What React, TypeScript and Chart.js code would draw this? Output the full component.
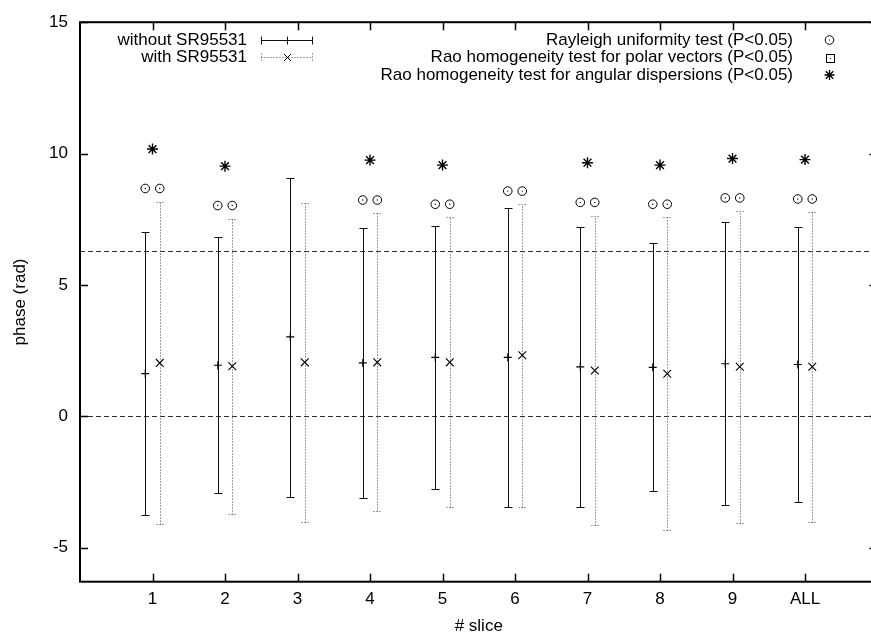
import { useEffect, useRef } from "react";
import { Chart, registerables } from "chart.js";

Chart.register(...registerables);

const categories = ["1", "2", "3", "4", "5", "6", "7", "8", "9", "ALL"];
const withoutMean = [1.62, 1.94, 3.02, 2.03, 2.24, 2.24, 1.88, 1.86, 2.0, 1.97];
const withoutHigh = [7.0, 6.82, 9.08, 7.18, 7.26, 7.92, 7.22, 6.58, 7.39, 7.19];
const withoutLow = [-3.77, -2.92, -3.06, -3.11, -2.78, -3.47, -3.45, -2.86, -3.38, -3.26];
const withMean = [2.03, 1.9, 2.05, 2.05, 2.05, 2.32, 1.74, 1.62, 1.88, 1.88];
const withHigh = [8.17, 7.52, 8.13, 7.72, 7.59, 8.07, 7.64, 7.58, 7.82, 7.76];
const withLow = [-4.1, -3.72, -4.02, -3.61, -3.45, -3.45, -4.16, -4.35, -4.07, -4.02];
const rayleigh: (number | null)[] = [8.67, 8.02, null, 8.23, 8.07, 8.57, 8.14, 8.07, 8.31, 8.27];
const raoPolar: (number | null)[] = [null, null, null, null, null, null, null, null, null, null];
const raoAngular: (number | null)[] = [10.17, 9.52, null, 9.75, 9.56, null, 9.65, 9.56, 9.81, 9.77];
const yTicks = [-5, 0, 5, 10, 15];
const refLines = [0, 6.283];
const seriesLabels = ["without SR95531", "with SR95531"];
const testLabels = [
  "Rayleigh uniformity test (P<0.05)",
  "Rao homogeneity test for polar vectors (P<0.05)",
  "Rao homogeneity test for angular dispersions (P<0.05)",
];
const xRange = [0, 11];
const yRange = [-6.3, 15];
const pairOffset = 0.1;

const FONT = "Liberation Sans, Arial, Helvetica, sans-serif";
const FS = 17;

function drawCircleDot(ctx: CanvasRenderingContext2D, x: number, y: number) {
  ctx.beginPath();
  ctx.arc(x, y, 4.3, 0, Math.PI * 2);
  ctx.stroke();
  ctx.fillRect(x - 0.5, y - 0.5, 1, 1);
}
function drawBoxDot(ctx: CanvasRenderingContext2D, x: number, y: number) {
  ctx.strokeRect(Math.round(x) - 3.5, Math.round(y) - 3.5, 8, 8);
  ctx.fillRect(Math.round(x), Math.round(y), 1, 1);
}
function drawStar(ctx: CanvasRenderingContext2D, x: number, y: number, r: number) {
  ctx.beginPath();
  ctx.moveTo(x - r, y); ctx.lineTo(x + r, y);
  ctx.moveTo(x, y - r); ctx.lineTo(x, y + r);
  const d = r * 0.75;
  ctx.moveTo(x - d, y - d); ctx.lineTo(x + d, y + d);
  ctx.moveTo(x - d, y + d); ctx.lineTo(x + d, y - d);
  ctx.stroke();
}
function drawPlus(ctx: CanvasRenderingContext2D, x: number, y: number, r: number) {
  ctx.beginPath();
  ctx.moveTo(x - r, y); ctx.lineTo(x + r, y);
  ctx.moveTo(x, y - r); ctx.lineTo(x, y + r);
  ctx.stroke();
}
function drawX(ctx: CanvasRenderingContext2D, x: number, y: number, r: number) {
  ctx.beginPath();
  ctx.moveTo(x - r, y - r); ctx.lineTo(x + r, y + r);
  ctx.moveTo(x - r, y + r); ctx.lineTo(x + r, y - r);
  ctx.stroke();
}

const gnuplotPlugin = {
  id: "gnuplotStyle",
  beforeDatasetsDraw(chart: any) {
    const { ctx, chartArea: a, scales } = chart;
    const xs = scales.x;
    const ys = scales.y;
    ctx.save();
    ctx.beginPath();
    ctx.rect(a.left, a.top, a.right - a.left, a.bottom - a.top);
    ctx.clip();
    ctx.strokeStyle = "#333";
    ctx.lineWidth = 1;
    ctx.setLineDash([5, 3]);
    refLines.forEach((v) => {
      const py = Math.round(ys.getPixelForValue(v)) + 0.5;
      ctx.beginPath();
      ctx.moveTo(a.left, py);
      ctx.lineTo(a.right, py);
      ctx.stroke();
    });
    const bar = (xv: number, lo: number, hi: number, dotted: boolean) => {
      const px = Math.round(xs.getPixelForValue(xv)) + 0.5;
      const pl = Math.round(ys.getPixelForValue(lo)) + 0.5;
      const ph = Math.round(ys.getPixelForValue(hi)) + 0.5;
      ctx.strokeStyle = dotted ? "#444" : "#111";
      ctx.setLineDash(dotted ? [1, 2] : []);
      ctx.lineWidth = 1;
      ctx.beginPath();
      ctx.moveTo(px, pl);
      ctx.lineTo(px, ph);
      ctx.moveTo(px - 4, pl);
      ctx.lineTo(px + 4, pl);
      ctx.moveTo(px - 4, ph);
      ctx.lineTo(px + 4, ph);
      ctx.stroke();
    };
    categories.forEach((_, i) => {
      bar(i + 1 - pairOffset, withoutLow[i], withoutHigh[i], false);
      bar(i + 1 + pairOffset, withLow[i], withHigh[i], true);
    });
    ctx.restore();
  },
  afterDraw(chart: any) {
    const { ctx, chartArea: a, scales } = chart;
    const xs = scales.x;
    const ys = scales.y;
    ctx.save();
    ctx.setLineDash([]);
    ctx.strokeStyle = "#000";
    ctx.lineWidth = 1.5;
    ctx.beginPath();
    categories.forEach((_, i) => {
      const px = Math.round(xs.getPixelForValue(i + 1)) + 0.5;
      ctx.moveTo(px, a.bottom);
      ctx.lineTo(px, a.bottom - 8);
      ctx.moveTo(px, a.top);
      ctx.lineTo(px, a.top + 8);
    });
    yTicks.forEach((v) => {
      const py = Math.round(ys.getPixelForValue(v)) + 0.5;
      ctx.moveTo(a.left, py);
      ctx.lineTo(a.left + 8, py);
      ctx.moveTo(a.right, py);
      ctx.lineTo(a.right - 8, py);
    });
    ctx.stroke();
    ctx.lineWidth = 2;
    ctx.strokeRect(a.left, a.top, a.right - a.left, a.bottom - a.top);

    ctx.font = `${FS}px ${FONT}`;
    ctx.fillStyle = "#000";
    ctx.textAlign = "right";
    ctx.textBaseline = "middle";
    const rowsL = [40, 57];
    ctx.fillText(seriesLabels[0], 247, rowsL[0]);
    ctx.fillText(seriesLabels[1], 247, rowsL[1]);
    ctx.lineWidth = 1;
    const s0 = 261, s1 = 312, sm = (s0 + s1) / 2;
    let yy = rowsL[0] + 0.5;
    ctx.strokeStyle = "#111";
    ctx.beginPath();
    ctx.moveTo(s0 + 0.5, yy); ctx.lineTo(s1 + 0.5, yy);
    ctx.moveTo(s0 + 0.5, yy - 4); ctx.lineTo(s0 + 0.5, yy + 4);
    ctx.moveTo(s1 + 0.5, yy - 4); ctx.lineTo(s1 + 0.5, yy + 4);
    ctx.stroke();
    drawPlus(ctx, Math.round(sm) + 0.5, yy, 4);
    yy = rowsL[1] + 0.5;
    ctx.strokeStyle = "#444";
    ctx.setLineDash([1, 2]);
    ctx.beginPath();
    ctx.moveTo(s0 + 0.5, yy); ctx.lineTo(s1 + 0.5, yy);
    ctx.moveTo(s0 + 0.5, yy - 4); ctx.lineTo(s0 + 0.5, yy + 4);
    ctx.moveTo(s1 + 0.5, yy - 4); ctx.lineTo(s1 + 0.5, yy + 4);
    ctx.stroke();
    ctx.setLineDash([]);
    ctx.strokeStyle = "#000";
    drawX(ctx, Math.round(sm) + 0.5, yy, 3.5);
    const rowsR = [40, 57.5, 75];
    ctx.fillStyle = "#000";
    testLabels.forEach((t, i) => ctx.fillText(t, 793, rowsR[i]));
    ctx.strokeStyle = "#000";
    ctx.lineWidth = 1;
    drawCircleDot(ctx, 829.5, rowsR[0]);
    drawBoxDot(ctx, 829.5, rowsR[1]);
    ctx.lineWidth = 1.3;
    drawStar(ctx, 829.5, rowsR[2], 5);
    ctx.restore();
  },
};

export default function App() {
  const ref = useRef<HTMLCanvasElement | null>(null);
  useEffect(() => {
    if (!ref.current) return;
    const rayleighPts: { x: number; y: number }[] = [];
    rayleigh.forEach((v, i) => {
      if (v !== null) {
        rayleighPts.push({ x: i + 1 - pairOffset, y: v });
        rayleighPts.push({ x: i + 1 + pairOffset, y: v });
      }
    });
    const polarPts: { x: number; y: number }[] = [];
    raoPolar.forEach((v, i) => {
      if (v !== null) polarPts.push({ x: i + 1, y: v });
    });
    const starPts: { x: number; y: number }[] = [];
    raoAngular.forEach((v, i) => {
      if (v !== null) starPts.push({ x: i + 1, y: v });
    });
    const chart = new Chart(ref.current, {
      type: "scatter",
      data: {
        datasets: [
          {
            label: seriesLabels[0],
            data: withoutMean.map((v, i) => ({ x: i + 1 - pairOffset, y: v })),
            pointStyle: "cross",
            pointRadius: 4,
            borderColor: "#000",
            backgroundColor: "#000",
            pointBorderWidth: 1.1,
          },
          {
            label: seriesLabels[1],
            data: withMean.map((v, i) => ({ x: i + 1 + pairOffset, y: v })),
            pointStyle: "crossRot",
            pointRadius: 5.5,
            borderColor: "#000",
            backgroundColor: "#000",
            pointBorderWidth: 1.1,
          },
          {
            label: testLabels[0],
            data: rayleighPts,
            pointStyle: "circle",
            pointRadius: 4.3,
            borderColor: "#000",
            backgroundColor: "rgba(0,0,0,0)",
            pointBorderWidth: 1,
          },
          {
            label: testLabels[0] + " (centre)",
            data: rayleighPts,
            pointStyle: "circle",
            pointRadius: 0.7,
            borderColor: "#000",
            backgroundColor: "#000",
            pointBorderWidth: 0,
          },
          {
            label: testLabels[1],
            data: polarPts,
            pointStyle: "rect",
            pointRadius: 4,
            borderColor: "#000",
            backgroundColor: "rgba(0,0,0,0)",
          },
          {
            label: testLabels[2],
            data: starPts,
            pointStyle: "star",
            pointRadius: 5.5,
            borderColor: "#000",
            pointBorderWidth: 1.4,
          },
        ],
      },
      options: {
        animation: false,
        responsive: false,
        events: [],
        layout: { padding: { left: 0, top: 14, right: 12.5, bottom: 0 } },
        plugins: { legend: { display: false }, tooltip: { enabled: false } },
        scales: {
          x: {
            type: "linear",
            min: xRange[0],
            max: xRange[1],
            grid: { display: false, drawTicks: false },
            border: { display: false },
            afterBuildTicks: (s: any) => {
              s.ticks = categories.map((_, i) => ({ value: i + 1 }));
            },
            afterFit: (s: any) => {
              s.height = 56.3;
            },
            ticks: {
              autoSkip: false,
              maxRotation: 0,
              padding: 7,
              color: "#000",
              font: { family: FONT, size: FS },
              callback: (v: any) => categories[Math.round(Number(v)) - 1] ?? "",
            },
            title: {
              display: true,
              text: "# slice",
              color: "#000",
              font: { family: FONT, size: FS },
              padding: { top: 0, bottom: 1 },
            },
          },
          y: {
            type: "linear",
            min: yRange[0],
            max: yRange[1],
            grid: { display: false, drawTicks: false },
            border: { display: false },
            afterBuildTicks: (s: any) => {
              s.ticks = yTicks.map((v) => ({ value: v }));
            },
            afterFit: (s: any) => {
              s.width = 80;
            },
            ticks: {
              padding: 12,
              color: "#000",
              font: { family: FONT, size: FS },
              callback: (v: any) => String(v),
            },
            title: {
              display: true,
              text: "phase (rad)",
              color: "#000",
              font: { family: FONT, size: FS },
              padding: { top: 10, bottom: 0 },
            },
          },
        },
      },
      plugins: [gnuplotPlugin],
    });
    return () => chart.destroy();
  }, []);
  return (
    <div
      style={{
        position: "fixed",
        left: 0,
        top: 0,
        width: 871,
        height: 638,
        overflow: "hidden",
        background: "#fff",
      }}
    >
      <canvas ref={ref} width={890} height={638} style={{ display: "block" }} />
    </div>
  );
}
